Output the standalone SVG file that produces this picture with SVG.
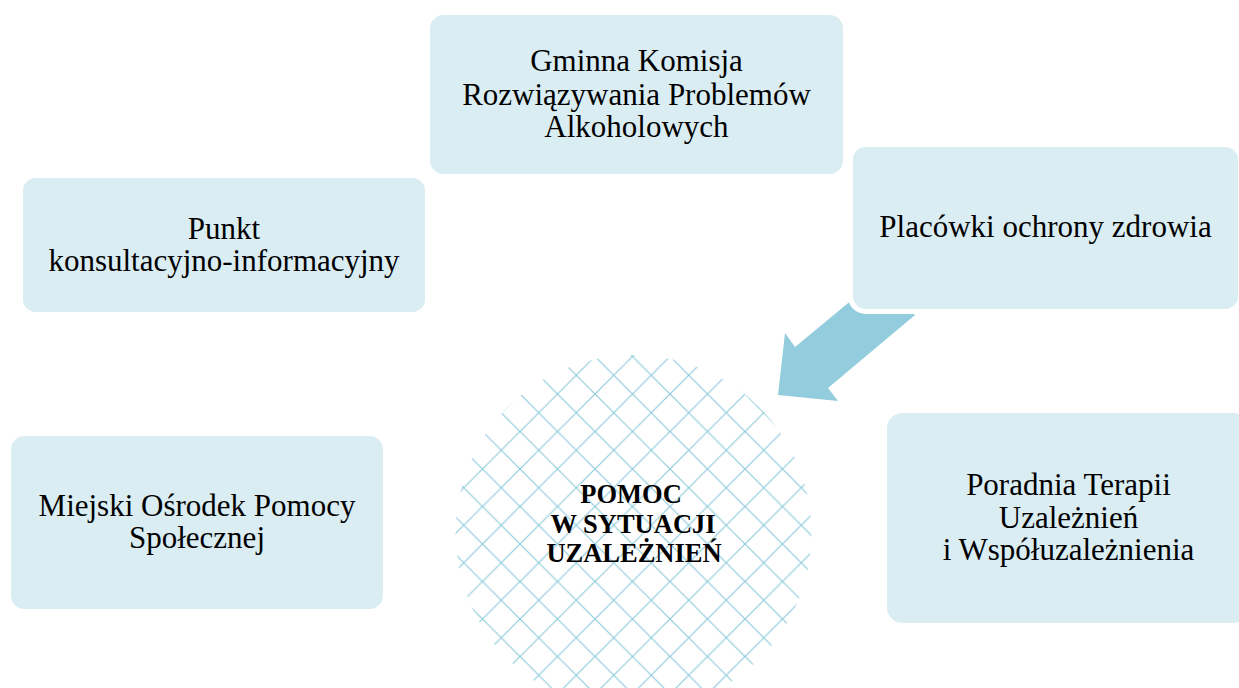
<svg xmlns="http://www.w3.org/2000/svg" width="1239" height="688" viewBox="0 0 1239 688">
  <style>
    .box { fill: #daedf3; stroke: #ffffff; stroke-width: 5; }
    .t { font-family: "Liberation Serif", "Times New Roman", serif; font-size: 31px; fill: #000000; text-anchor: middle; }
    .tb { font-family: "Liberation Serif", "Times New Roman", serif; font-size: 26.5px; font-weight: bold; fill: #000000; text-anchor: middle; }
    .arrow { fill: #93cddd; }
  </style>
  <defs>
    <pattern id="hatch" patternUnits="userSpaceOnUse" x="595" y="394" width="37.5" height="37.5">
      <path d="M-2,-2 L39.5,39.5 M39.5,-2 L-2,39.5" stroke="#8fcbdc" stroke-width="1.2" fill="none"/>
    </pattern>
    <clipPath id="circ">
      <circle cx="633.5" cy="533" r="178"/>
    </clipPath>
  </defs>
  <rect width="1239" height="688" fill="#ffffff"/>

  <g id="center-node">
    <rect x="440" y="340" width="390" height="360" fill="url(#hatch)" clip-path="url(#circ)"/>
    <text class="tb" x="631" y="503">POMOC</text>
    <text class="tb" x="633" y="533">W SYTUACJI</text>
    <text class="tb" x="634" y="562">UZALEŻNIEŃ</text>
  </g>

  <g id="connectors">
    <polygon class="arrow" points="882,275 795,347 785,333 778,395 838,401 828,388 915,315"/>
  </g>

  <g id="node-gminna">
    <rect class="box" x="427.5" y="12.5" width="418" height="164" rx="16"/>
    <text class="t" x="636.5" y="71">Gminna Komisja</text>
    <text class="t" x="636.5" y="105">Rozwiązywania Problemów</text>
    <text class="t" x="636.5" y="137">Alkoholowych</text>
  </g>

  <g id="node-punkt">
    <rect class="box" x="20.5" y="175.5" width="407" height="139" rx="15"/>
    <text class="t" x="224" y="239">Punkt</text>
    <text class="t" x="224" y="271">konsultacyjno-informacyjny</text>
  </g>

  <g id="node-placowki">
    <rect class="box" x="850.5" y="144.5" width="390" height="167" rx="15"/>
    <text class="t" x="1045.5" y="237">Placówki ochrony zdrowia</text>
  </g>

  <g id="node-mops">
    <rect class="box" x="8.5" y="433.5" width="377" height="178" rx="16"/>
    <text class="t" x="197" y="516">Miejski Ośrodek Pomocy</text>
    <text class="t" x="197" y="548">Społecznej</text>
  </g>

  <g id="node-poradnia">
    <rect class="box" x="884.5" y="410.5" width="367" height="215" rx="18"/>
    <text class="t" x="1068.5" y="495">Poradnia Terapii</text>
    <text class="t" x="1068.5" y="528">Uzależnień</text>
    <text class="t" x="1068.5" y="560">i Współuzależnienia</text>
  </g>
</svg>
